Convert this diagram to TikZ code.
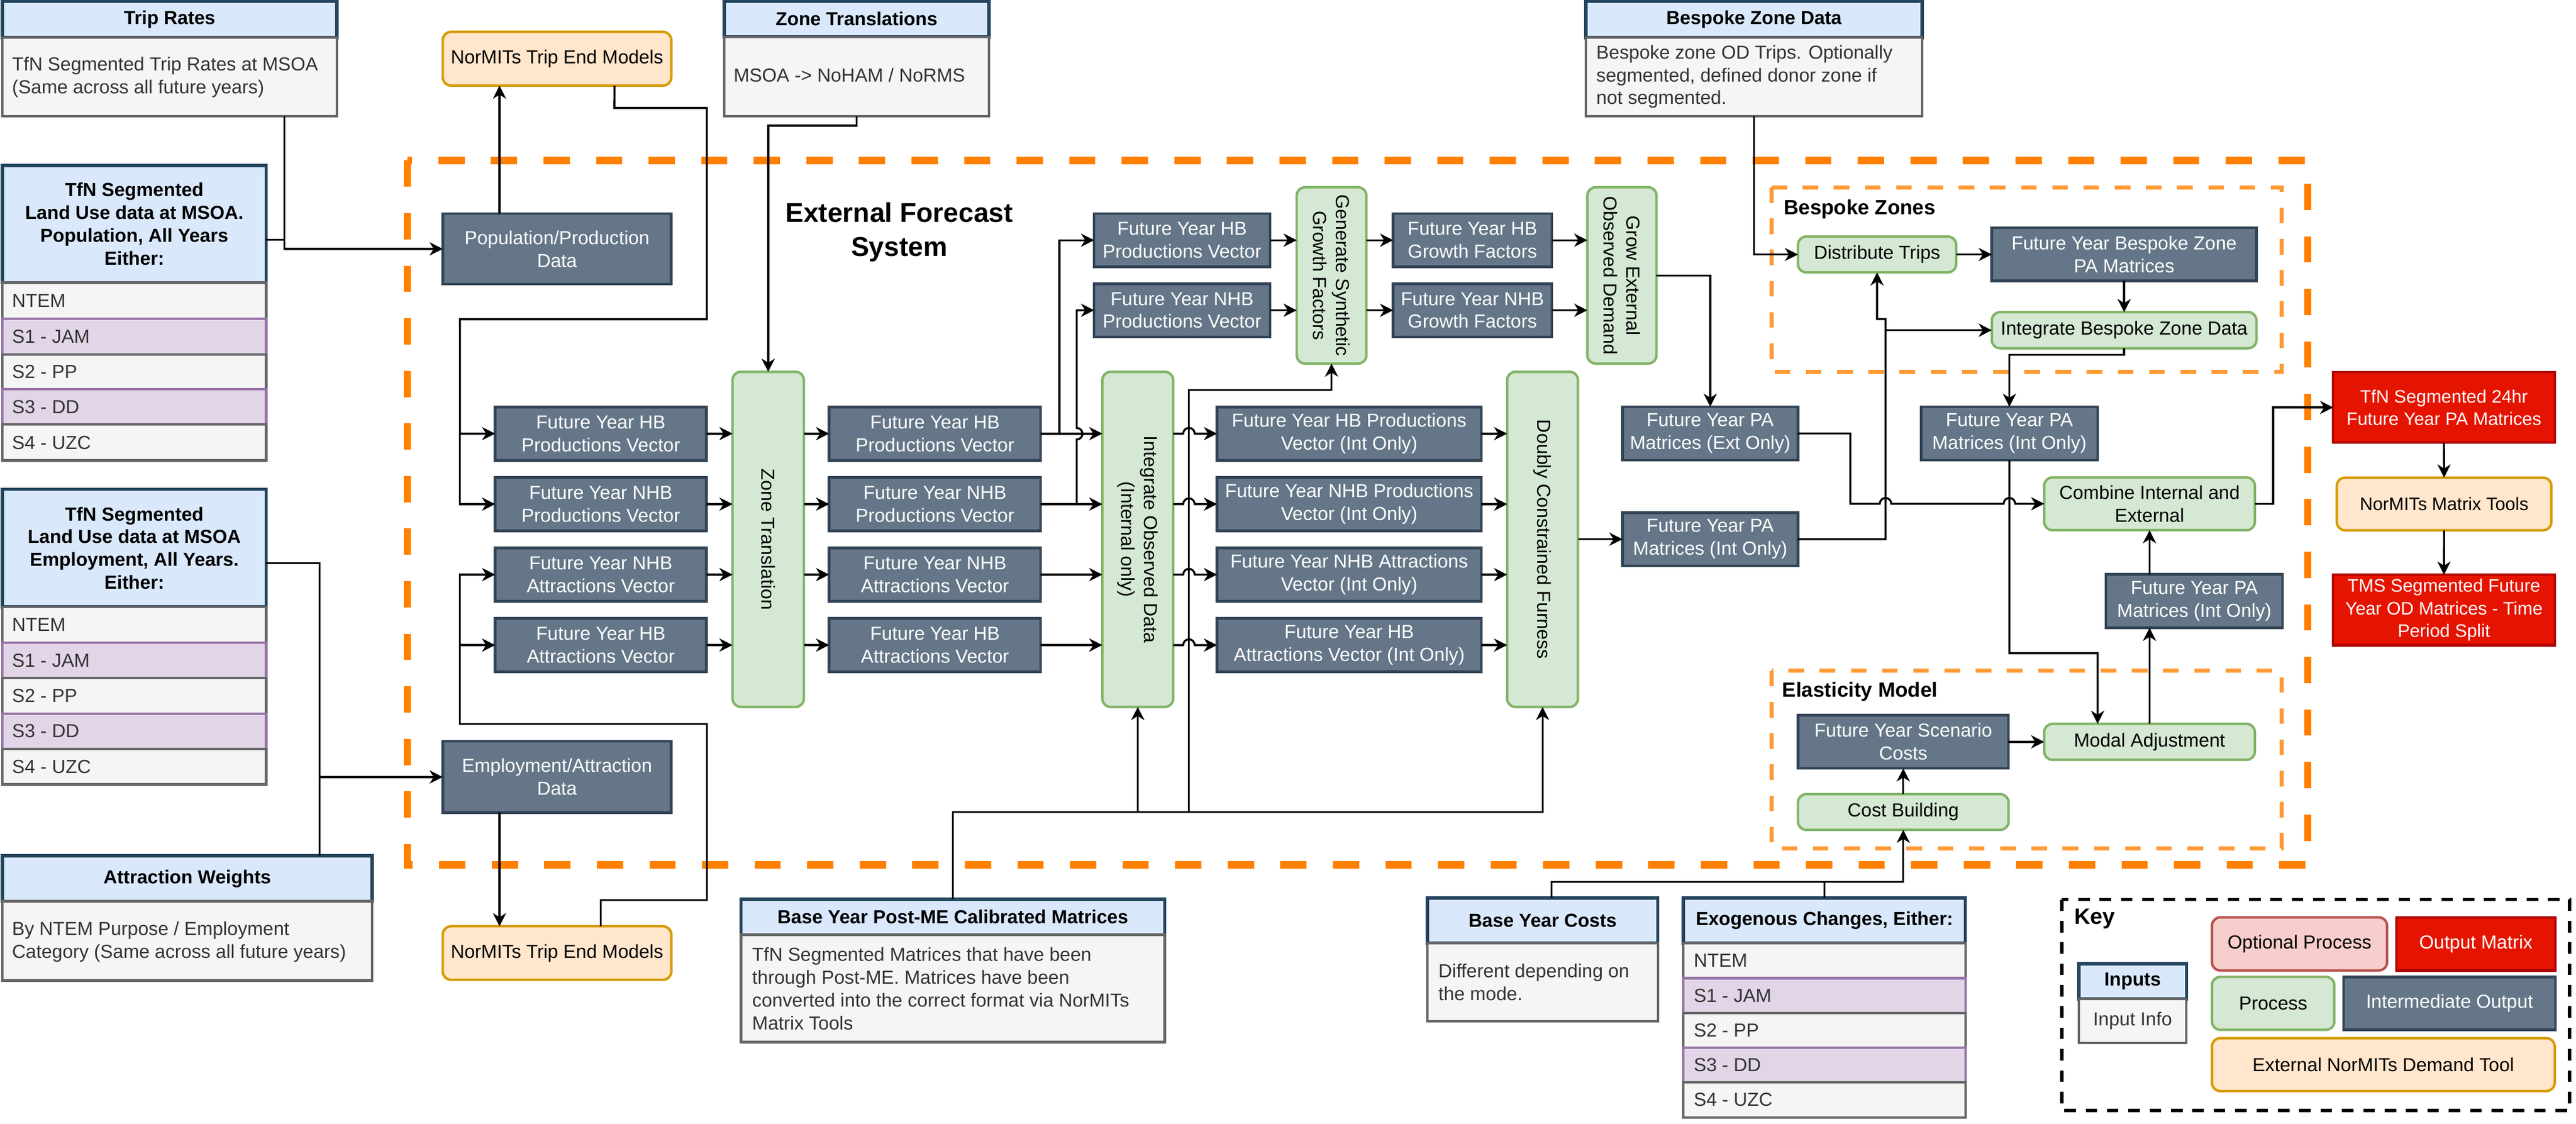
\documentclass[tikz,border=0pt]{standalone}
\usepackage{fontspec}
\setmainfont{Liberation Sans}
\usetikzlibrary{arrows.meta}
\definecolor{cdark}{HTML}{647687}
\definecolor{cdarkb}{HTML}{314354}
\definecolor{cgreen}{HTML}{D5E8D4}
\definecolor{cgreenb}{HTML}{82B366}
\definecolor{ctool}{HTML}{FFE6CC}
\definecolor{ctoolb}{HTML}{D79B00}
\definecolor{chdr}{HTML}{DAE8FC}
\definecolor{chdrb}{HTML}{23445D}
\definecolor{cbody}{HTML}{F5F5F5}
\definecolor{cbodyb}{HTML}{666666}
\definecolor{cpur}{HTML}{E1D5E7}
\definecolor{cpurb}{HTML}{9673A6}
\definecolor{cred}{HTML}{E51400}
\definecolor{credb}{HTML}{B20000}
\definecolor{copt}{HTML}{F8CECC}
\definecolor{coptb}{HTML}{B85450}
\definecolor{ctxt}{HTML}{333333}
\definecolor{corange}{HTML}{FF8000}
\definecolor{corangel}{HTML}{FF9933}
\newcommand\fs{\fontsize{11.5}{13.9}\selectfont}
\newcommand\fsr{\fontsize{11}{13.7}\selectfont}
\newcommand\bx[7]{%
  \pgfmathsetmacro\bxw{#5-(#3)}\pgfmathsetmacro\bxh{#6-(#4)}%
  \node[#2, minimum width=\bxw pt, minimum height=\bxh pt, anchor=north west] (#1) at (#3,#4) {#7};}
\newcommand\lt[4]{\node[anchor=west, align=left, text=ctxt] (#1) at (#2,#3) {#4};}
\tikzset{
  every node/.style={font=\fs, inner sep=0pt, outer sep=0pt},
  dark/.style={draw=cdarkb, fill=cdark, line width=1.6pt, text=white, align=center},
  proc/.style={draw=cgreenb, fill=cgreen, line width=1.5pt, rounded corners=5pt},
  procc/.style={proc, align=center},
  tool/.style={draw=ctoolb, fill=ctool, line width=1.5pt, rounded corners=5pt, align=center},
  hdr/.style={draw=chdrb, fill=chdr, line width=2pt, font=\fs\bfseries, align=center},
  body/.style={draw=cbodyb, fill=cbody, line width=1.5pt, align=center},
  rowg/.style={draw=cbodyb, fill=cbody, line width=1.5pt},
  rowp/.style={draw=cpurb, fill=cpur, line width=1.5pt},
  outp/.style={draw=credb, fill=cred, line width=1.5pt, text=white, align=center, font=\fsr},
  opt/.style={draw=coptb, fill=copt, line width=1.5pt, rounded corners=5pt, align=center},
  arr/.style={line width=1.2pt, -{Stealth[length=8pt,width=8pt,inset=2.5pt]}},
  ln/.style={line width=1.2pt},
  rot/.style={rotate=-90, align=center},
}
\begin{document}
\begin{tikzpicture}[x=1pt,y=-1pt]
\useasboundingbox (0,0) rectangle (1568,684);
\fill[white] (0,0) rectangle (1568,684);

% ---------- group frames
\draw[line width=4.5pt, draw=corange, dash pattern=on 16pt off 16pt] (248,97.7) rectangle (1404.7,526.4);
\draw[line width=2.5pt, draw=corangel, dash pattern=on 9.5pt off 9.5pt] (1078.5,114) rectangle (1388.8,226.3);
\draw[line width=2.5pt, draw=corangel, dash pattern=on 9.5pt off 9.5pt] (1078.5,408.3) rectangle (1388.8,516.3);
\draw[line width=2pt, dash pattern=on 7pt off 6pt] (1255,547.5) rectangle (1564,676);

\node[font=\bfseries\fontsize{16.5}{20.7}\selectfont, align=center] (efs) at (547.4,141.4) {External Forecast\\System};
\node[font=\bfseries\fontsize{12.5}{15}\selectfont, anchor=west] (bzl) at (1085.8,127.5) {Bespoke Zones};
\node[font=\bfseries\fontsize{12.5}{15}\selectfont, anchor=west] (eml) at (1084.9,421) {Elasticity Model};
\node[font=\bfseries\fontsize{13.5}{16}\selectfont, anchor=west] (keyl) at (1262.6,559.4) {Key};

% ---------- inputs
\bx{trh}{hdr}{1.5}{0.8}{205}{22.8}{Trip Rates}
\bx{trb}{rowg}{1.5}{22.8}{205}{70.6}{}
\lt{trt}{7.4}{47}{TfN Segmented Trip Rates at MSOA\\(Same across all future years)}

\bx{puh}{hdr}{1.5}{100.7}{162}{172}{TfN Segmented\\Land Use data at MSOA.\\Population, All Years\\Either:}
\bx{pu1}{rowg}{1.5}{172}{162}{194}{}
\bx{pu2}{rowp}{1.5}{194}{162}{215.7}{}
\bx{pu3}{rowg}{1.5}{215.7}{162}{237}{}
\bx{pu4}{rowp}{1.5}{237}{162}{258.4}{}
\bx{pu5}{rowg}{1.5}{258.4}{162}{280.3}{}
\lt{pu1t}{7.4}{183}{NTEM}
\lt{pu2t}{7.4}{204.85}{S1 - JAM}
\lt{pu3t}{7.4}{226.35}{S2 - PP}
\lt{pu4t}{7.4}{247.7}{S3 - DD}
\lt{pu5t}{7.4}{269.35}{S4 - UZC}

\bx{euh}{hdr}{1.5}{297.8}{162}{369.5}{TfN Segmented\\Land Use data at MSOA\\Employment, All Years.\\Either:}
\bx{eu1}{rowg}{1.5}{369.5}{162}{391.1}{}
\bx{eu2}{rowp}{1.5}{391.1}{162}{412.7}{}
\bx{eu3}{rowg}{1.5}{412.7}{162}{434.3}{}
\bx{eu4}{rowp}{1.5}{434.3}{162}{455.9}{}
\bx{eu5}{rowg}{1.5}{455.9}{162}{477.5}{}
\lt{eu1t}{7.4}{380.3}{NTEM}
\lt{eu2t}{7.4}{401.9}{S1 - JAM}
\lt{eu3t}{7.4}{423.5}{S2 - PP}
\lt{eu4t}{7.4}{445.1}{S3 - DD}
\lt{eu5t}{7.4}{466.7}{S4 - UZC}

\bx{zth}{hdr}{440.8}{0.7}{602}{22.5}{Zone Translations}
\bx{ztb}{rowg}{440.8}{22.5}{602}{70.8}{}
\lt{ztt}{446.6}{45.9}{MSOA -> NoHAM / NoRMS}

\bx{bzh}{hdr}{965.3}{0.8}{1170}{22.8}{Bespoke Zone Data}
\bx{bzb}{rowg}{965.3}{22.8}{1170}{70.6}{}
\lt{bzt}{971.7}{46.7}{Bespoke zone OD Trips. Optionally\\segmented, defined donor zone if\\not segmented.}

\bx{awh}{hdr}{1.5}{520.9}{226.5}{548.6}{Attraction Weights}
\bx{awb}{rowg}{1.5}{548.6}{226.5}{596.8}{}
\lt{awt}{7.4}{573.3}{By NTEM Purpose / Employment\\Category (Same across all future years)}

\bx{bmh}{hdr}{451}{547.4}{709}{568.9}{Base Year Post-ME Calibrated Matrices}
\bx{bmb}{rowg}{451}{568.9}{709}{634.3}{}
\lt{bmt}{457.9}{601.7}{TfN Segmented Matrices that have been\\through Post-ME. Matrices have been\\converted into the correct format via NorMITs\\Matrix Tools}

\bx{bch}{hdr}{868.9}{546.5}{1009.1}{574.1}{Base Year Costs}
\bx{bcb}{rowg}{868.9}{574.1}{1009.1}{621.5}{}
\lt{bct}{875.6}{598}{Different depending on\\the mode.}

\bx{exh}{hdr}{1024.7}{546.5}{1196.3}{574.1}{Exogenous Changes, Either:}
\bx{ex1}{rowg}{1024.7}{574.1}{1196.3}{595.4}{}
\bx{ex2}{rowp}{1024.7}{595.4}{1196.3}{616.5}{}
\bx{ex3}{rowg}{1024.7}{616.5}{1196.3}{637.6}{}
\bx{ex4}{rowp}{1024.7}{637.6}{1196.3}{658.7}{}
\bx{ex5}{rowg}{1024.7}{658.7}{1196.3}{680.1}{}
\lt{ex1t}{1031}{584.75}{NTEM}
\lt{ex2t}{1031}{605.95}{S1 - JAM}
\lt{ex3t}{1031}{627.05}{S2 - PP}
\lt{ex4t}{1031}{648.15}{S3 - DD}
\lt{ex5t}{1031}{669.4}{S4 - UZC}

% ---------- process chain
\bx{nt1}{tool}{269.5}{19.4}{408.6}{52.1}{NorMITs Trip End Models}
\bx{pp}{dark}{269.5}{130}{408.6}{173}{Population/Production\\Data}
\bx{ea}{dark}{269.5}{451.3}{408.6}{494.6}{Employment/Attraction\\Data}
\bx{nt2}{tool}{269.5}{563.8}{408.6}{596.4}{NorMITs Trip End Models}

\bx{a1}{dark}{301.4}{247.7}{430}{280.2}{Future Year HB\\Productions Vector}
\bx{a2}{dark}{301.4}{290.6}{430}{323.1}{Future Year NHB\\Productions Vector}
\bx{a3}{dark}{301.4}{333.5}{430}{366}{Future Year NHB\\Attractions Vector}
\bx{a4}{dark}{301.4}{376.4}{430}{408.9}{Future Year HB\\Attractions Vector}

\bx{zt}{proc}{445.9}{226.3}{489.3}{430.3}{}
\node[rot] (ztl) at (zt) {Zone Translation};

\bx{b1}{dark}{504.7}{247.7}{633.5}{280.2}{Future Year HB\\Productions Vector}
\bx{b2}{dark}{504.7}{290.6}{633.5}{323.1}{Future Year NHB\\Productions Vector}
\bx{b3}{dark}{504.7}{333.5}{633.5}{366}{Future Year NHB\\Attractions Vector}
\bx{b4}{dark}{504.7}{376.4}{633.5}{408.9}{Future Year HB\\Attractions Vector}

\bx{io}{proc}{671}{226.3}{714.1}{430.3}{}
\node[rot] (iol) at (io) {Integrate Observed Data\\(Internal only)};

\bx{c1}{dark}{740.8}{247.7}{901.7}{280.2}{Future Year HB Productions\\Vector (Int Only)}
\bx{c2}{dark}{740.8}{290.6}{901.7}{323.1}{Future Year NHB Productions\\Vector (Int Only)}
\bx{c3}{dark}{740.8}{333.5}{901.7}{366}{Future Year NHB Attractions\\Vector (Int Only)}
\bx{c4}{dark}{740.8}{376.4}{901.7}{408.9}{Future Year HB\\Attractions Vector (Int Only)}

\bx{dc}{proc}{917.4}{226.3}{960.5}{430.3}{}
\node[rot] (dcl) at (dc) {Doubly Constrained Furness};

\bx{t1}{dark}{666}{130}{773}{162.4}{Future Year HB\\Productions Vector}
\bx{t2}{dark}{666}{172.7}{773}{205}{Future Year NHB\\Productions Vector}
\bx{gs}{proc}{789.3}{114}{831.7}{221.3}{}
\node[rot] (gsl) at (gs) {Generate Synthetic\\Growth Factors};
\bx{g1}{dark}{848}{130}{944.5}{162.4}{Future Year HB\\Growth Factors}
\bx{g2}{dark}{848}{172.7}{944.5}{205}{Future Year NHB\\Growth Factors}
\bx{ge}{proc}{966.2}{114}{1008.3}{221.3}{}
\node[rot] (gel) at (ge) {Grow External\\Observed Demand};

\bx{pe}{dark}{987.6}{247.6}{1094.4}{280.1}{Future Year PA\\Matrices (Ext Only)}
\bx{pil}{dark}{987.6}{312}{1094.4}{344.4}{Future Year PA\\Matrices (Int Only)}
\bx{piu}{dark}{1169.4}{247.6}{1276.8}{280.1}{Future Year PA\\Matrices (Int Only)}
\bx{cie}{procc}{1244.3}{290.6}{1372.5}{322.7}{Combine Internal and\\External}
\bx{pir}{dark}{1281.9}{349.6}{1389.4}{382.1}{Future Year PA\\Matrices (Int Only)}

\bx{dt}{procc}{1094.4}{144}{1190.7}{165.8}{Distribute Trips}
\bx{fb}{dark}{1212.4}{138.7}{1373.5}{170.9}{Future Year Bespoke Zone\\PA Matrices}
\bx{ib}{procc}{1212.4}{190}{1373.5}{212}{Integrate Bespoke Zone Data}

\bx{sc}{dark}{1094.4}{435.4}{1222.6}{467.7}{Future Year Scenario\\Costs}
\bx{ma}{procc}{1244.3}{440.6}{1372.5}{462.5}{Modal Adjustment}
\bx{cb}{procc}{1094.4}{483.4}{1222.6}{505.1}{Cost Building}

\bx{o1}{outp}{1420.2}{226.5}{1555}{269.5}{TfN Segmented 24hr\\Future Year PA Matrices}
\bx{mt}{tool,font=\fsr}{1422.4}{290.7}{1553}{322.8}{NorMITs Matrix Tools}
\bx{o2}{outp}{1420.2}{349.8}{1555}{392.8}{TMS Segmented Future\\Year OD Matrices - Time\\Period Split}

% ---------- key
\bx{kih}{hdr}{1265.3}{586.6}{1330.9}{608.1}{Inputs}
\bx{kib}{body,text=ctxt}{1265.3}{608.1}{1330.9}{634.8}{Input Info}
\bx{kop}{opt}{1346.4}{558.4}{1453}{590.7}{Optional Process}
\bx{kom}{outp,font=\fs}{1458.6}{558.4}{1555.5}{590.7}{Output Matrix}
\bx{kpr}{procc}{1346.4}{594.6}{1420.9}{626.8}{Process}
\bx{kio}{dark}{1426.5}{594.6}{1555.5}{626.8}{Intermediate Output}
\bx{kex}{tool}{1346.4}{631.9}{1555}{664.1}{External NorMITs Demand Tool}

% ---------- connectors
\draw[arr] (173,70.6) |- (pp.west);
\draw[ln] (162,146) -- (173,146);
\draw[arr] ([xshift=-35pt]pp.north) -- ([xshift=-35pt]nt1.south);
\draw[arr] ([xshift=35pt]nt1.south) -- (374,65.7) -- (430.2,65.7) -- (430.2,194.3) -- (280,194.3) |- (a1.west);
\draw[arr] (280,264) |- (a2.west);
\draw[arr] ([xshift=26.65pt]nt2.north) -- (365.7,547.9) -- (430.2,547.9) -- (430.2,440.6) -- (280,440.6) |- (a4.west);
\draw[arr] (280,392.65) |- (a3.west);
\draw[arr] (162,342.9) -- (194.5,342.9) |- (ea.west);
\draw[ln] (194.5,520.9) -- (194.5,472.95);
\draw[arr] ([xshift=-35pt]ea.south) -- ([xshift=-35pt]nt2.north);
\draw[arr] (ztb.south) -- ++(0,5.7) -| (zt.north);

\foreach \i in {1,2,3,4}{
  \draw[arr] (a\i.east) -- (zt.west |- a\i.east);
  \draw[arr] (zt.east |- b\i.west) -- (b\i.west);
  \draw[arr] (b\i.east) -- (io.west |- b\i.east);
  \draw[arr] (io.east |- c\i.west) -- ++(6.1,0) arc[start angle=180,end angle=0,radius=3.5pt] -- (c\i.west);
  \draw[arr] (c\i.east) -- (dc.west |- c\i.east);
}
\draw[arr] (b1.east) -- ++(11.3,0) |- (t1.west);
\draw[arr] (b2.east) -- ++(21.9,0) -- (655.4,267.5) arc[start angle=-90,end angle=90,radius=3.5pt] |- (t2.west);

\draw[arr] (bmh.north) -- (580,494.2) -| (dc.south);
\draw[arr] (692.55,494.2) -- (io.south);
\draw[arr] (723.7,494.2) -- (723.7,237.4) -| (gs.south);

\draw[arr] (t1.east) -- (gs.west |- t1.east);
\draw[arr] (t2.east) -- (gs.west |- t2.east);
\draw[arr] (gs.east |- g1.west) -- (g1.west);
\draw[arr] (gs.east |- g2.west) -- (g2.west);
\draw[arr] (g1.east) -- (ge.west |- g1.east);
\draw[arr] (g2.east) -- (ge.west |- g2.east);
\draw[arr] (ge.east) -| (pe.north);
\draw[arr] (dc.east |- pil.west) -- (pil.west);

\draw[arr] (pe.east) -- ++(31.9,0) |- (1144.2,306.6) arc[start angle=180,end angle=0,radius=3.5pt] -- (1219.6,306.6) arc[start angle=180,end angle=0,radius=3.5pt] -- (cie.west);
\draw[arr] (pil.east) -- (1147.7,328.2) -- (1147.7,194.2) -- (1142.55,194.2) -- (dt.south);
\draw[arr] (1147.7,201) -- (ib.west);
\draw[arr] (bzb.south) |- (dt.west);
\draw[arr] (dt.east) -- (fb.west |- dt.east);
\draw[arr] (fb.south) -- (ib.north);
\draw[arr] (ib.south) -- ++(0,4) -| (piu.north);
\draw[arr] (piu.south) -- (1223.1,397.6) -| ([xshift=-31.6pt]ma.north);
\draw[arr] (ma.north) -- (ma.north |- pir.south);
\draw[arr] (pir.north -| ma.north) -- (cie.south);
\draw[arr] (cie.east) -- ++(11.2,0) |- (o1.west);
\draw[arr] (o1.south) -- (mt.north);
\draw[arr] (mt.south) -- (o2.north);
\draw[arr] (sc.east |- ma.west) -- (ma.west);
\draw[arr] (cb.north) -- (sc.south);
\draw[arr] (944.5,546.5) -- (944.5,536.7) -| (cb.south);
\draw[ln] (exh.north) -- ++(0,-9.8);
\end{tikzpicture}
\end{document}
